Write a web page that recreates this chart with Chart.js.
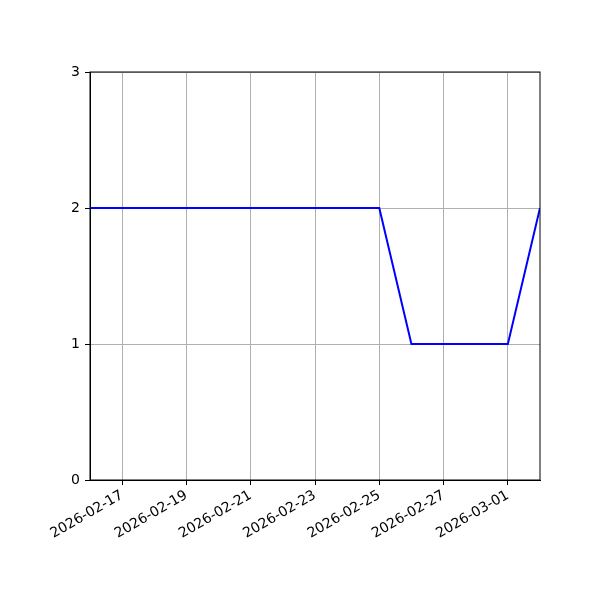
<!DOCTYPE html>
<html>
<head>
<meta charset="utf-8">
<script src="https://cdn.jsdelivr.net/npm/chart.js@4"></script>
<style>
  html, body { margin: 0; padding: 0; background: #fff; }
  #wrap { width: 600px; height: 600px; }
</style>
</head>
<body>
<div id="wrap"><canvas id="dayChart"></canvas></div>
<script>
// one value per day, 2026-02-16 .. 2026-03-02
const dates = [
  '2026-02-16', '2026-02-17', '2026-02-18', '2026-02-19', '2026-02-20',
  '2026-02-21', '2026-02-22', '2026-02-23', '2026-02-24', '2026-02-25',
  '2026-02-26', '2026-02-27', '2026-02-28', '2026-03-01', '2026-03-02'
];
const values = [2, 2, 2, 2, 2, 2, 2, 2, 2, 2, 1, 1, 1, 1, 2];
const xTickLabels = ['2026-02-17', '2026-02-19', '2026-02-21', '2026-02-23', '2026-02-25', '2026-02-27', '2026-03-01'];
const yTicks = [0, 1, 2, 3];

const points = values.map((v, i) => ({ x: i, y: v }));
const fontSpec = { family: 'DejaVu Sans', size: 14 };

const chartConfig = {
  type: 'line',
  data: {
    datasets: [{
      data: points,
      borderColor: '#0000ff',
      borderWidth: 2,
      pointRadius: 0,
      tension: 0,
      fill: false,
    }],
  },
  options: {
    responsive: true,
    maintainAspectRatio: false,
    animation: false,
    layout: { padding: { top: 72, right: 60, left: 0, bottom: 0 } },
    plugins: {
      legend: { display: false },
      tooltip: { enabled: false },
    },
    scales: {
      x: {
        type: 'linear',
        min: 0,
        max: dates.length - 1,
        afterBuildTicks: (scale) => {
          scale.ticks = xTickLabels.map(l => ({ value: dates.indexOf(l) }));
        },
        afterFit: (scale) => { scale.height = 120; },
        ticks: {
          color: '#000',
          font: fontSpec,
          minRotation: 30,
          maxRotation: 30,
          padding: 2,
          autoSkip: false,
          callback: (v) => dates[v],
        },
        grid: {
          color: '#b0b0b0',
          lineWidth: 1,
          tickColor: '#000',
          tickLength: 5,
        },
        border: { color: '#000', width: 1 },
      },
      y: {
        min: 0,
        max: 3,
        afterBuildTicks: (scale) => {
          scale.ticks = yTicks.map(v => ({ value: v }));
        },
        afterFit: (scale) => { scale.width = 90; },
        ticks: {
          color: '#000',
          font: fontSpec,
          padding: 5,
        },
        grid: {
          color: '#b0b0b0',
          lineWidth: 1,
          tickColor: '#000',
          tickLength: 5,
        },
        border: { color: '#000', width: 1 },
      },
    },
  },
  plugins: [{
    id: 'frame',
    afterDraw(chart) {
      const { ctx, chartArea: a } = chart;
      ctx.save();
      ctx.strokeStyle = '#000';
      ctx.lineWidth = 1;
      ctx.strokeRect(a.left, a.top, a.right - a.left, a.bottom - a.top);
      ctx.restore();
    },
  }],
};

new Chart(document.getElementById('dayChart').getContext('2d'), chartConfig);
</script>
</body>
</html>
